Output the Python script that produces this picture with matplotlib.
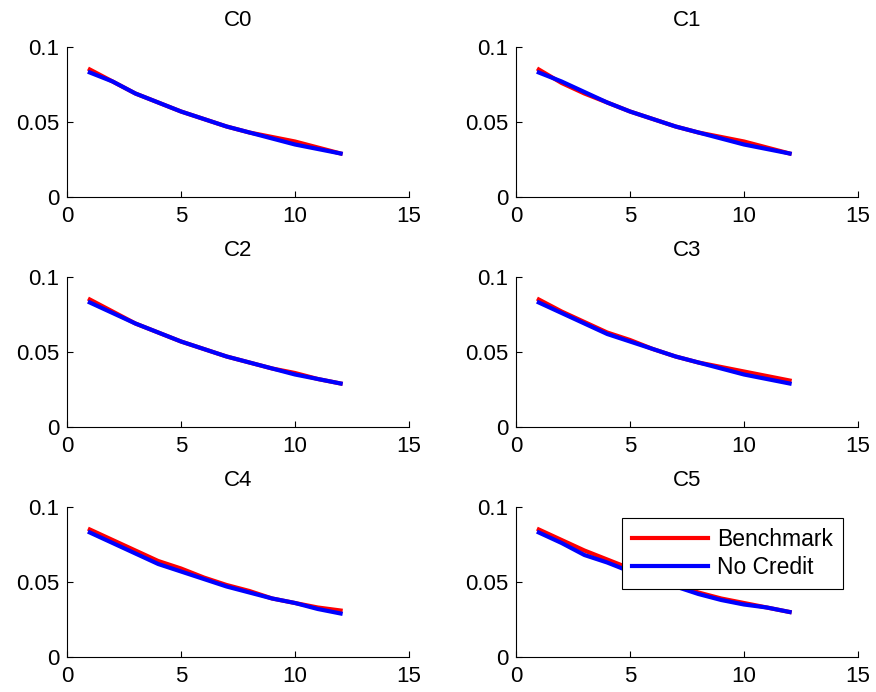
import matplotlib
matplotlib.use("Agg")
import matplotlib.pyplot as plt
import numpy as np

plt.rcParams['font.family'] = ['Liberation Sans', 'DejaVu Sans']

x = list(range(1, 13))
titles = ["C0", "C1", "C2", "C3", "C4", "C5"]

benchmark = [
    [0.085, 0.077, 0.069, 0.063, 0.057, 0.052, 0.047, 0.043, 0.040, 0.037, 0.033, 0.029],
    [0.085, 0.076, 0.069, 0.063, 0.057, 0.052, 0.047, 0.043, 0.040, 0.037, 0.033, 0.029],
    [0.085, 0.077, 0.069, 0.063, 0.057, 0.052, 0.047, 0.043, 0.039, 0.036, 0.032, 0.029],
    [0.085, 0.077, 0.070, 0.063, 0.058, 0.052, 0.047, 0.043, 0.040, 0.037, 0.034, 0.031],
    [0.085, 0.078, 0.071, 0.064, 0.059, 0.053, 0.048, 0.044, 0.039, 0.036, 0.033, 0.031],
    [0.085, 0.078, 0.071, 0.065, 0.059, 0.053, 0.048, 0.043, 0.039, 0.036, 0.033, 0.030],
]
no_credit = [
    [0.083, 0.077, 0.069, 0.063, 0.057, 0.052, 0.047, 0.043, 0.039, 0.035, 0.032, 0.029],
    [0.083, 0.077, 0.070, 0.063, 0.057, 0.052, 0.047, 0.043, 0.039, 0.035, 0.032, 0.029],
    [0.083, 0.076, 0.069, 0.063, 0.057, 0.052, 0.047, 0.043, 0.039, 0.035, 0.032, 0.029],
    [0.083, 0.076, 0.069, 0.062, 0.057, 0.052, 0.047, 0.043, 0.039, 0.035, 0.032, 0.029],
    [0.083, 0.076, 0.069, 0.062, 0.057, 0.052, 0.047, 0.043, 0.039, 0.036, 0.032, 0.029],
    [0.083, 0.076, 0.068, 0.063, 0.057, 0.052, 0.047, 0.042, 0.038, 0.035, 0.033, 0.030],
]

fig = plt.figure(figsize=(8.76, 6.92), dpi=100)
lefts = [67/876, 516/876]
bottoms = [1-197/692, 1-427/692, 1-657/692]
w = 342/876
h = 150/692
fs = 16

for i in range(6):
    r, c = divmod(i, 2)
    ax = fig.add_axes([lefts[c], bottoms[r], w, h])
    ax.plot(x, benchmark[i], color='#ff0000', lw=3.0, label='Benchmark')
    ax.plot(x, no_credit[i], color='#0000ff', lw=3.0, label='No Credit')
    ax.set_xlim(0, 15)
    ax.set_ylim(0, 0.1)
    ax.set_xticks([0, 5, 10, 15])
    ax.set_xticklabels(['0', '5', '10', '15'])
    ax.set_yticks([0, 0.05, 0.1])
    ax.set_yticklabels(['0', '0.05', '0.1'])
    ax.spines['top'].set_visible(False)
    ax.spines['right'].set_visible(False)
    ax.tick_params(direction='in', length=4, width=0.8, labelsize=fs)
    ax.tick_params(axis='x', pad=6.5)
    ax.tick_params(axis='y', pad=5.5)
    ax.set_title(titles[i], fontsize=fs, pad=15)
    if i == 5:
        handles, labels = ax.get_legend_handles_labels()
        leg = ax.legend(handles, labels, loc='upper left',
                        bbox_to_anchor=((622-516)/342, (657-518)/150),
                        prop={'size': 16.5},
                        frameon=True, fancybox=False, edgecolor='black', framealpha=1,
                        handlelength=3.3, borderpad=0.45, labelspacing=0.2,
                        handletextpad=0.4, borderaxespad=0)
        leg.get_frame().set_linewidth(0.8)

fig.savefig('out.png', dpi=100, facecolor='white')
